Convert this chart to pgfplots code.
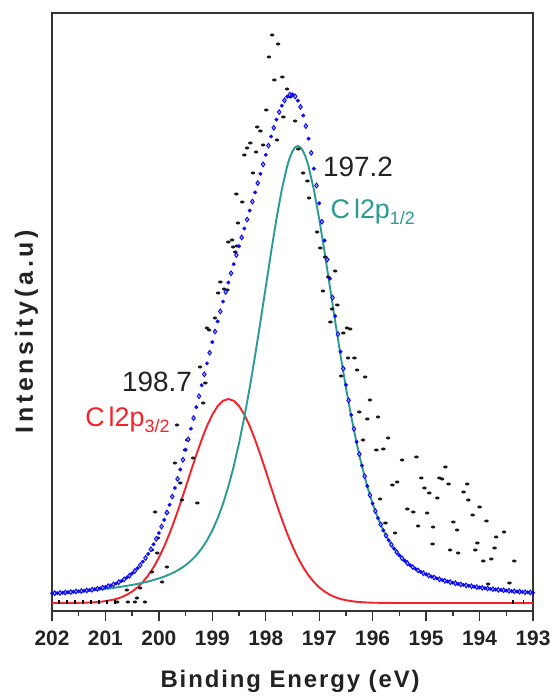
\documentclass[border=0pt]{standalone}
\usepackage{fontspec}
\setmainfont{Liberation Sans}
\usepackage{pgfplots}
\pgfplotsset{compat=1.18}
\definecolor{tealc}{HTML}{2A9A92}
\definecolor{redc}{HTML}{F5222A}
\definecolor{bluec}{HTML}{0A0AF5}
\definecolor{txt}{HTML}{222222}
\begin{document}
\begin{tikzpicture}
\useasboundingbox (-52bp,-87bp) rectangle (500bp,611bp);
\begin{axis}[
  scale only axis, width=481bp, height=598bp,
  xmin=193, xmax=202, ymin=0, ymax=598, x dir=reverse,
  xtick={193,194,...,202}, minor x tick num=1,
  ytick=\empty, xtick pos=bottom, tick align=outside,
  major tick length=10bp, minor tick length=5bp,
  every tick/.style={line width=1.4bp, black!80},
  axis line style={line width=1.8bp, draw=black!80},
  /pgf/number format/assume math mode=true,
  xticklabel style={font=\fontsize{21}{21}\selectfont\bfseries, text=txt, anchor=base, yshift=-24bp},
  xlabel={Binding Energy (eV)},
  xlabel style={font=\fontsize{24}{24}\selectfont\bfseries\addfontfeature{LetterSpace=8}, text=txt, at={(axis description cs:0.495,0)}, anchor=base, yshift=-76bp},
  ylabel={Intensity(a.u)},
  ylabel style={font=\fontsize{25}{25}\selectfont\bfseries\addfontfeature{LetterSpace=15}, text=txt, at={(axis description cs:-0.0395,0.467)}, anchor=base},
  clip=true,
]
% black measured data
\addplot[only marks, mark=*, mark size=1.25bp, black, mark options={xscale=1.6, draw=black!90, fill=black!90}] table {
197.88 576
197.77 567
197.94 554
197.84 531
197.69 534
197.60 522
197.54 514
197.99 501
198.16 484
198.10 480
198.05 466
198.29 468
198.35 463
198.18 459
198.40 456
198.24 438
198.55 417
198.44 409
198.52 388
198.63 371
198.70 369
198.61 364
198.54 365
198.57 359
198.85 329
198.72 321
198.89 318
198.78 322
198.95 293
199.10 283
199.06 281
199.23 244
199.13 228
199.17 208
199.66 186
199.47 171
199.51 161
199.36 153
199.70 148
199.60 128
199.57 111
199.28 108
200.07 99
199.85 98
200.02 73
200.13 61
200.03 58
199.85 44
200.13 39
199.94 29
200.60 21
200.35 23
200.41 13
200.78 9
200.58 9
200.45 9
200.26 9
197.67 494
197.79 471
197.45 490
197.39 462
197.30 438
197.22 430
197.19 413
197.04 379
196.98 363
196.89 354
196.70 340
196.83 334
196.93 320
196.66 306
196.76 302
196.79 289
196.48 283
196.42 282
196.55 278
196.46 253
196.34 253
196.59 235
196.29 241
196.14 234
196.05 211
196.25 199
196.10 192
195.90 194
196.18 171
195.93 161
195.80 162
195.71 173
195.45 151
195.18 154
195.54 129
195.63 126
195.09 133
195.03 123
194.94 118
194.75 133
194.70 132
194.64 144
194.58 127
194.79 113
194.23 127
194.30 119
194.21 111
194.98 98
195.15 85
194.87 84
195.35 102
195.24 99
195.86 112
195.58 78
195.76 88
194.88 67
194.49 89
194.42 81
194.13 96
194.00 104
193.87 90
194.55 61
194.40 58
194.04 68
194.08 61
193.69 74
193.54 79
193.72 63
193.93 50
193.78 52
193.35 50
193.84 27
193.44 28
};
\addplot[only marks, mark=|, mark size=2.2bp, black, mark options={line width=1.6bp}] table {
201.87 9
201.72 9
201.57 9
201.42 9
201.27 9
201.12 9
200.97 9
200.82 9
193.37 9
193.18 9
};
% red component
\addplot[redc, line width=1.9bp] table {
202.0 8.0
201.5 8.2
201.4 8.3
201.3 8.5
201.2 8.8
201.1 9.2
201.0 9.9
200.9 10.8
200.8 12.0
200.7 13.8
200.6 16.2
200.5 19.5
200.4 23.6
200.3 29.0
200.2 35.6
200.1 43.7
200.0 53.4
199.9 64.7
199.8 77.6
199.7 91.9
199.6 107.3
199.5 123.5
199.4 140.0
199.3 156.1
199.2 171.3
199.1 185.0
199.0 196.3
198.9 204.9
198.8 210.2
198.7 212.0
198.6 210.2
198.5 204.9
198.4 196.3
198.3 185.0
198.2 171.3
198.1 156.1
198.0 140.0
197.9 123.5
197.8 107.3
197.7 91.9
197.6 77.6
197.5 64.7
197.4 53.4
197.3 43.7
197.2 35.6
197.1 29.0
197.0 23.6
196.9 19.5
196.8 16.2
196.7 13.8
196.6 12.0
196.5 10.8
196.4 9.9
196.3 9.2
196.2 8.8
196.1 8.5
196.0 8.3
195.9 8.2
195.5 8.0
193.0 8.0
};
% teal component
\addplot[tealc, line width=1.9bp] table {
202.0 17.6
201.9 17.9
201.8 18.3
201.7 18.7
201.6 19.1
201.5 19.5
201.4 19.9
201.3 20.4
201.2 21.0
201.1 21.5
201.0 22.1
200.9 22.8
200.8 23.5
200.7 24.3
200.6 25.2
200.5 26.1
200.4 27.1
200.3 28.3
200.2 29.5
200.1 31.0
200.0 32.6
199.9 34.4
199.8 36.6
199.7 39.1
199.6 42.2
199.5 45.8
199.4 50.3
199.3 55.7
199.2 62.4
199.1 70.6
199.0 80.6
198.9 92.7
198.8 107.2
198.7 124.5
198.6 144.6
198.5 167.9
198.4 194.2
198.3 223.4
198.2 255.3
198.1 289.1
198.0 324.1
197.9 359.0
197.8 392.1
197.7 421.4
197.6 444.7
197.55 453.4
197.5 459.8
197.45 463.7
197.4 465.0
197.35 463.7
197.3 459.8
197.25 453.4
197.2 444.7
197.1 421.4
197.0 392.1
196.9 359.0
196.8 324.1
196.7 289.1
196.6 255.3
196.5 223.4
196.4 194.2
196.3 167.9
196.2 144.6
196.1 124.5
196.0 107.2
195.9 92.7
195.8 80.6
195.7 70.6
195.6 62.4
195.5 55.7
195.4 50.3
195.3 45.8
195.2 42.2
195.1 39.1
195.0 36.6
194.9 34.4
194.8 32.6
194.7 31.0
194.6 29.5
194.5 28.3
194.4 27.1
194.3 26.1
194.2 25.2
194.1 24.3
194.0 23.5
193.9 22.8
193.8 22.1
193.7 21.5
193.6 21.0
193.5 20.4
193.4 19.9
193.3 19.5
193.2 19.1
193.1 18.7
193.0 18.3
};
% blue envelope: diamonds
\addplot[only marks, mark=diamond*, mark size=2.4bp, mark options={draw=bluec, fill=bluec!35, line width=0.9bp}] table {
201.95 17.8
201.85 18.1
201.75 18.5
201.65 18.9
201.55 19.5
201.45 20.0
201.35 20.6
201.25 21.3
201.15 22.2
201.05 23.3
200.95 24.8
200.85 26.6
200.75 28.8
200.65 31.6
200.55 35.3
200.45 40.0
200.35 45.8
200.25 53.0
200.15 61.7
200.05 72.1
199.95 84.4
199.85 98.5
199.75 114.4
199.65 132.1
199.55 151.2
199.45 171.6
199.35 192.9
199.25 214.8
199.15 236.7
199.05 258.3
198.95 279.4
198.85 299.6
198.75 319.0
198.65 337.7
198.55 355.9
198.45 373.6
198.35 391.4
198.25 409.4
198.15 427.9
198.05 446.6
197.95 465.4
197.85 483.2
197.75 498.9
197.65 510.6
197.55 516.4
197.45 514.6
197.35 504.1
197.25 484.9
197.15 458.1
197.05 425.5
196.95 389.3
196.85 351.4
196.75 313.4
196.65 276.9
196.55 242.4
196.45 210.7
196.35 182.1
196.25 156.9
196.15 134.8
196.05 115.9
195.95 99.9
195.85 86.6
195.75 75.4
195.65 66.3
195.55 58.9
195.45 52.8
195.35 47.9
195.25 43.9
195.15 40.6
195.05 37.8
194.95 35.5
194.85 33.5
194.75 31.7
194.65 30.2
194.55 28.9
194.45 27.7
194.35 26.6
194.25 25.6
194.15 24.7
194.05 23.9
193.95 23.2
193.85 22.5
193.75 21.8
193.65 21.2
193.55 20.7
193.45 20.2
193.35 19.7
193.25 19.3
193.15 18.8
193.05 18.5
};
% blue envelope: circles
\addplot[only marks, mark=*, mark size=1.8bp, mark options={draw=bluec, fill=bluec}] table {
202.0 17.6
201.9 17.9
201.8 18.3
201.7 18.8
201.6 19.2
201.5 19.7
201.4 20.2
201.3 20.9
201.2 21.8
201.1 22.7
201.0 24.0
200.9 25.6
200.8 27.5
200.7 30.1
200.6 33.4
200.5 37.6
200.4 42.7
200.3 49.3
200.2 57.1
200.1 66.7
200.0 78.0
199.9 91.1
199.8 106.2
199.7 123.0
199.6 141.5
199.5 161.3
199.4 182.3
199.3 203.8
199.2 225.7
199.1 247.6
199.0 268.9
198.9 289.6
198.8 309.4
198.7 328.5
198.6 346.8
198.5 364.8
198.4 382.5
198.3 400.4
198.2 418.6
198.1 437.2
198.0 456.1
197.9 474.5
197.8 491.4
197.7 505.3
197.6 514.3
197.5 516.5
197.4 510.4
197.3 495.5
197.2 472.3
197.1 442.4
197.0 407.7
196.9 370.5
196.8 332.3
196.7 294.9
196.6 259.3
196.5 226.2
196.4 196.1
196.3 169.1
196.2 145.4
196.1 125.0
196.0 107.5
195.9 92.9
195.8 80.7
195.7 70.7
195.6 62.4
195.5 55.7
195.4 50.3
195.3 45.8
195.2 42.2
195.1 39.1
195.0 36.6
194.9 34.4
194.8 32.6
194.7 31.0
194.6 29.5
194.5 28.3
194.4 27.1
194.3 26.1
194.2 25.2
194.1 24.3
194.0 23.5
193.9 22.8
193.8 22.1
193.7 21.5
193.6 21.0
193.5 20.4
193.4 19.9
193.3 19.5
193.2 19.1
193.1 18.7
193.0 18.3
};
% annotations
\node[anchor=base west, inner sep=0pt, text=txt, font=\fontsize{28}{28}\selectfont] at (axis cs:196.93,434) {197.2};
\node[anchor=base west, inner sep=0pt, text=tealc, font=\fontsize{27}{27}\selectfont] at (axis cs:196.79,392) {C\kern4bp l2p\raisebox{-6bp}{\fontsize{18}{18}\selectfont 1/2}};
\node[anchor=base west, inner sep=0pt, text=txt, font=\fontsize{28}{28}\selectfont] at (axis cs:200.69,219) {198.7};
\node[anchor=base west, inner sep=0pt, text=redc, font=\fontsize{27}{27}\selectfont] at (axis cs:201.38,184) {C\kern4bp l2p\raisebox{-6bp}{\fontsize{18}{18}\selectfont 3/2}};
\end{axis}
\end{tikzpicture}
\end{document}
